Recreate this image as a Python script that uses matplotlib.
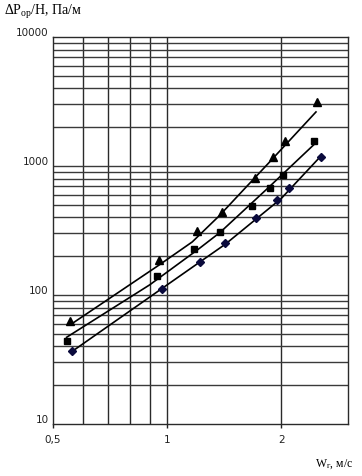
import matplotlib
matplotlib.use("Agg")
import matplotlib.pyplot as plt
import numpy as np

plt.rcParams['mathtext.fontset'] = 'custom'
plt.rcParams['mathtext.rm'] = 'Liberation Serif'
plt.rcParams['mathtext.it'] = 'Liberation Serif:italic'

tri_x = [0.554, 0.953, 1.20, 1.397, 1.705, 1.905, 2.05, 2.49]
tri_y = [62.8, 188, 315, 443, 803, 1167, 1570, 3120]
sq_x = [0.543, 0.94, 1.177, 1.377, 1.67, 1.87, 2.02, 2.44]
sq_y = [44.3, 141, 227, 306, 492, 671, 851, 1570]
dia_x = [0.56, 0.97, 1.22, 1.425, 1.72, 1.95, 2.10, 2.55]
dia_y = [37, 111, 181, 252, 393, 545, 671, 1180]

# fitted curves
top_x = [0.564, 0.953, 1.165, 1.37, 1.85, 2.47]
top_y = [60.6, 171, 258, 409, 1050, 2625]
mid_x = [0.543, 0.90, 1.21, 1.38, 1.85, 2.45]
mid_y = [47, 120, 227, 306, 680, 1483]
bot_x = [0.565, 0.972, 1.425, 2.0, 2.55]
bot_y = [37, 113, 248, 560, 1202]

xgrid = [0.6, 0.7, 0.8, 0.9, 1, 2]
xticks = [0.5, 1, 2]
xticklabels = ['0,5', '1', '2']
yticks = [10, 100, 1000, 10000]
yticklabels = ['10', '100', '1000', '10000']

fig = plt.figure(figsize=(3.62, 4.77), dpi=100)
ax = fig.add_axes([0.1464, 0.1090, 0.8149, 0.8113])
ax.set_xscale('log')
ax.set_yscale('log')
ax.set_xlim(0.5, 3.0)
ax.set_ylim(10, 10000)

# grid
for gx in xgrid:
    ax.axvline(gx, color='#2a2a2a', lw=1.0, zorder=1)
for dec in [10, 100, 1000]:
    for m in range(1, 10):
        v = dec * m
        if v > 10:
            ax.axhline(v, color='#3a3a3a', lw=1.0, zorder=1)

for s in ax.spines.values():
    s.set_color('#2a2a2a')
    s.set_linewidth(1.0)

ax.plot(top_x, top_y, color='black', lw=1.2, zorder=3)
ax.plot(mid_x, mid_y, color='black', lw=1.2, zorder=3)
ax.plot(bot_x, bot_y, color='black', lw=1.2, zorder=3)

ax.plot(tri_x, tri_y, '^', color='black', ms=6, ls='none', zorder=4)
ax.plot(sq_x, sq_y, 's', color='black', ms=4.5, ls='none', zorder=4)
ax.plot(dia_x, dia_y, 'D', color='#0a0a3c', ms=4.2, ls='none', zorder=4)

ax.xaxis.set_minor_locator(matplotlib.ticker.NullLocator())
ax.yaxis.set_minor_locator(matplotlib.ticker.NullLocator())
ax.set_xticks(xticks)
ax.set_xticklabels(xticklabels)
ax.set_yticks(yticks)
ax.set_yticklabels(yticklabels)
ax.tick_params(axis='x', length=3, width=1, pad=4, labelsize=7.5, colors='#222222')
ax.tick_params(axis='y', length=0, pad=3, labelsize=7.5, colors='#222222')
for lbl in ax.get_yticklabels():
    lbl.set_verticalalignment('bottom')

fig.text(0.012, 0.968, 'ΔP$_{\\mathrm{ор}}$/Н, Па/м', fontsize=10,
         family='Liberation Serif', ha='left', va='baseline')
fig.text(0.975, 0.022, 'W$_{\\mathrm{г}}$, м/с', fontsize=8.5,
         family='Liberation Serif', ha='right', va='baseline')

fig.savefig('out.png', dpi=100)
